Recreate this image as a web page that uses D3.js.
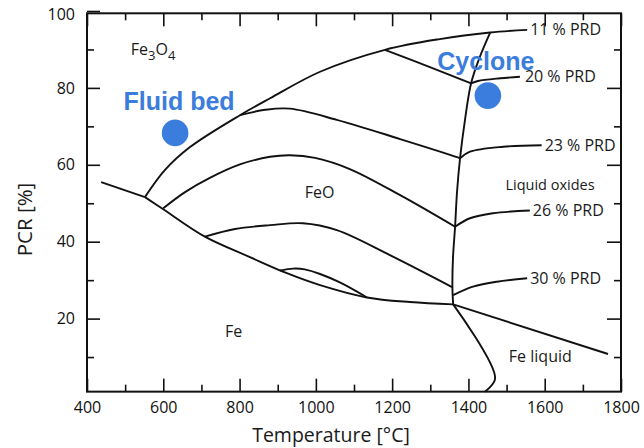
<!DOCTYPE html>
<html>
<head>
<meta charset="utf-8">
<script src="https://cdn.jsdelivr.net/npm/d3@7"></script>
<style>
body { margin: 0; background: #fff; }
svg { display: block; }
.axis text { font-family: "Open Sans", sans-serif; font-size: 16px; fill: #111; }
.axis path { display: none; }
.axis line { stroke: #111; stroke-width: 1.6px; }
.curve { fill: none; stroke: #111; stroke-width: 1.9px; stroke-linejoin: round; }
.region { font-family: "Open Sans", sans-serif; font-size: 16px; fill: #1a1a1a; }
.spot-label { font-family: "Liberation Sans", Arial, sans-serif; font-weight: bold; font-size: 25px; fill: #3b7ddd; }
</style>
</head>
<body>
<div class="chart_container"></div>
<script>
// axis ticks
var tempMajor = [400, 600, 800, 1000, 1200, 1400, 1600, 1800];
var tempMinor = [500, 700, 900, 1100, 1300, 1500, 1700];
var pcrMajor = [20, 40, 60, 80, 100];
var pcrMinor = [10, 30, 50, 70, 90];

// phase boundaries, [temperature, PCR]
var lowTempBoundary = [[437, 55.5], [552, 51.6]];
var feFeoBoundary = [[552, 51.6], [599, 48.5], [709, 41.3], [827, 36.0], [924, 31.8],
                     [1011, 28.7], [1134, 25.5], [1247, 24.3], [1360, 23.7]];
var feoMagnetiteBoundary = [[552, 51.6], [604, 58.6], [670, 64.6], [801, 72.9], [880, 77.3],
                            [1011, 84.2], [1181, 89.9], [1325, 92.7], [1457, 94.4], [1554, 95.1]];
var liquidus = [[1457, 94.4], [1430, 88.1], [1407, 81.2], [1391, 71.7], [1378, 61.7],
                [1370, 52.8], [1365, 43.9], [1359.5, 35.8], [1358, 28.1], [1360, 23.7]];
var feLiquidLine = [[1360, 23.7], [1766, 10.8]];
var meltLine = [[1360, 23.7], [1470, 4.5], [1443, 1.0]];
var smallLobe = [[906, 32.5], [940, 33.0], [971, 32.8], [1011, 31.6], [1063, 29.4], [1134, 25.5]];

// PRD isobars, solid side and liquid side
var prd20Solid = [[1181, 89.9], [1299, 85.4], [1407, 81.2]];
var prd20Liquid = [[1407, 81.2], [1425, 81.8], [1483, 82.5], [1535, 82.9]];
var prd23Solid = [[801, 72.9], [867, 74.3], [932, 74.6], [1055, 71.7], [1221, 66.7], [1370, 62.0], [1378, 61.7]];
var prd23Liquid = [[1378, 61.7], [1404, 63.4], [1491, 64.7], [1592, 65.1]];
var prd26Solid = [[600, 48.7], [657, 52.9], [722, 56.6], [801, 60.1], [880, 62.1], [932, 62.5],
                  [998, 61.8], [1089, 58.9], [1221, 52.1], [1365, 43.9]];
var prd26Liquid = [[1365, 43.9], [1404, 46.1], [1464, 47.4], [1561, 48.1]];
var prd30Solid = [[709, 41.3], [788, 43.3], [880, 44.3], [966, 44.8], [1055, 43.0], [1194, 36.5], [1357, 28.2]];
var prd30Liquid = [[1360, 26.1], [1412, 28.3], [1475, 29.6], [1554, 30.5]];

var prdNames = ["11 % PRD", "20 % PRD", "23 % PRD", "26 % PRD", "30 % PRD"];

// region names, anchored at [temperature, PCR]
var regionNames = ["FeO", "Fe", "Liquid oxides", "Fe liquid"];
var regionAnchors = [[971, 51.4], [762, 15.3], [1497, 53.4], [1506, 8.8]];

// reactor operating points
var spotNames = ["Fluid bed", "Cyclone"];
var spotValues = [[631, 68.3], [1451, 78.0]];

var width = 644, height = 448;

var container = d3.select(".chart_container");
var svg = container.append("svg")
    .attr("width", width)
    .attr("height", height);

var x = d3.scaleLinear().domain([400, 1800]).range([87, 621]);
var y = d3.scaleLinear().domain([0, 100]).range([395.5, 11]);

var x0 = x(400), x1 = x(1800);
var yTop = y(99.4), yBot = y(1);

// ticks (all pointing inward)
svg.append("g").attr("class", "axis")
    .attr("transform", "translate(0," + yBot + ")")
    .call(d3.axisBottom(x).tickValues(tempMajor).tickSize(-13).tickPadding(10).tickFormat(d3.format("d")));
svg.append("g").attr("class", "axis")
    .attr("transform", "translate(0," + yBot + ")")
    .call(d3.axisBottom(x).tickValues(tempMinor).tickSize(-7).tickFormat(""));
svg.append("g").attr("class", "axis")
    .attr("transform", "translate(0," + yTop + ")")
    .call(d3.axisTop(x).tickValues(tempMajor).tickSize(-13).tickFormat(""));
svg.append("g").attr("class", "axis")
    .attr("transform", "translate(0," + yTop + ")")
    .call(d3.axisTop(x).tickValues(tempMinor).tickSize(-7).tickFormat(""));
var leftAxis = svg.append("g").attr("class", "axis")
    .attr("transform", "translate(" + x0 + ",0)")
    .call(d3.axisLeft(y).tickValues(pcrMajor).tickSize(-13).tickPadding(12));
// the 100 label sits a little below the frame top in the original
leftAxis.selectAll(".tick text").filter(d => d == 100).attr("dy", "0.55em");
svg.append("g").attr("class", "axis")
    .attr("transform", "translate(" + x0 + ",0)")
    .call(d3.axisLeft(y).tickValues(pcrMinor).tickSize(-7).tickFormat(""));
svg.append("g").attr("class", "axis")
    .attr("transform", "translate(" + x1 + ",0)")
    .call(d3.axisRight(y).tickValues(pcrMajor.slice(0, 4)).tickSize(-14).tickFormat(""));
svg.append("g").attr("class", "axis")
    .attr("transform", "translate(" + x1 + ",0)")
    .call(d3.axisRight(y).tickValues(pcrMinor).tickSize(-7).tickFormat(""));

svg.append("rect")
    .attr("x", x0).attr("y", yTop)
    .attr("width", x1 - x0).attr("height", yBot - yTop)
    .style("fill", "none").style("stroke", "#111").style("stroke-width", "2px");

// curves
var line = d3.line()
    .x(d => x(d[0]))
    .y(d => y(d[1]))
    .curve(d3.curveCatmullRom.alpha(0.5));

var curves = [lowTempBoundary, feFeoBoundary, feoMagnetiteBoundary, liquidus, feLiquidLine, meltLine, smallLobe,
              prd20Solid, prd20Liquid, prd23Solid, prd23Liquid, prd26Solid, prd26Liquid, prd30Solid, prd30Liquid];

svg.append("g").selectAll("path")
    .data(curves)
    .enter().append("path")
        .attr("class", "curve")
        .attr("d", line);

// PRD labels at the liquid-side line ends
var prdEnds = [feoMagnetiteBoundary, prd20Liquid, prd23Liquid, prd26Liquid, prd30Liquid]
    .map(c => c[c.length - 1]);

svg.append("g").selectAll("text")
    .data(prdEnds)
    .enter().append("text")
        .attr("class", "region")
        .attr("x", (d, i) => x(d[0]) + (i == 1 ? 5 : 3))
        .attr("y", d => y(d[1]))
        .attr("dy", "0.35em")
        .text((d, i) => prdNames[i]);

// region names
svg.append("g").selectAll("text")
    .data(regionAnchors)
    .enter().append("text")
        .attr("class", "region")
        .attr("x", d => x(d[0]))
        .attr("y", d => y(d[1]))
        .style("font-size", (d, i) => i == 2 ? "14.5px" : "16px")
        .text((d, i) => regionNames[i]);

var magnetite = svg.append("text")
    .attr("class", "region")
    .attr("x", x(515))
    .attr("y", y(88.6));
magnetite.append("tspan").text("Fe");
magnetite.append("tspan").attr("dy", 5).style("font-size", "13px").text("3");
magnetite.append("tspan").attr("dy", -5).text("O");
magnetite.append("tspan").attr("dy", 5).style("font-size", "13px").text("4");

// operating points
svg.append("g").selectAll("circle")
    .data(spotValues)
    .enter().append("circle")
        .attr("cx", d => x(d[0]))
        .attr("cy", d => y(d[1]))
        .attr("r", 13.3)
        .style("fill", "#3b7ddd");

svg.append("g").selectAll("text")
    .data(spotValues)
    .enter().append("text")
        .attr("class", "spot-label")
        .attr("x", (d, i) => x(d[0]) + (i == 0 ? 4 : -2))
        .attr("y", (d, i) => y(d[1]) - (i == 0 ? 23 : 25.5))
        .attr("text-anchor", "middle")
        .text((d, i) => spotNames[i]);

// axis titles
svg.append("text")
    .attr("x", 331)
    .attr("y", 441.5)
    .attr("text-anchor", "middle")
    .style("font-family", "'Open Sans', sans-serif")
    .style("font-size", "19.5px")
    .style("fill", "#1a1a1a")
    .text("Temperature [°C]");

svg.append("text")
    .attr("transform", "translate(32,219.5) rotate(-90)")
    .attr("text-anchor", "middle")
    .style("font-family", "'Open Sans', sans-serif")
    .style("font-size", "20.5px")
    .style("fill", "#1a1a1a")
    .text("PCR [%]");
</script>
</body>
</html>
